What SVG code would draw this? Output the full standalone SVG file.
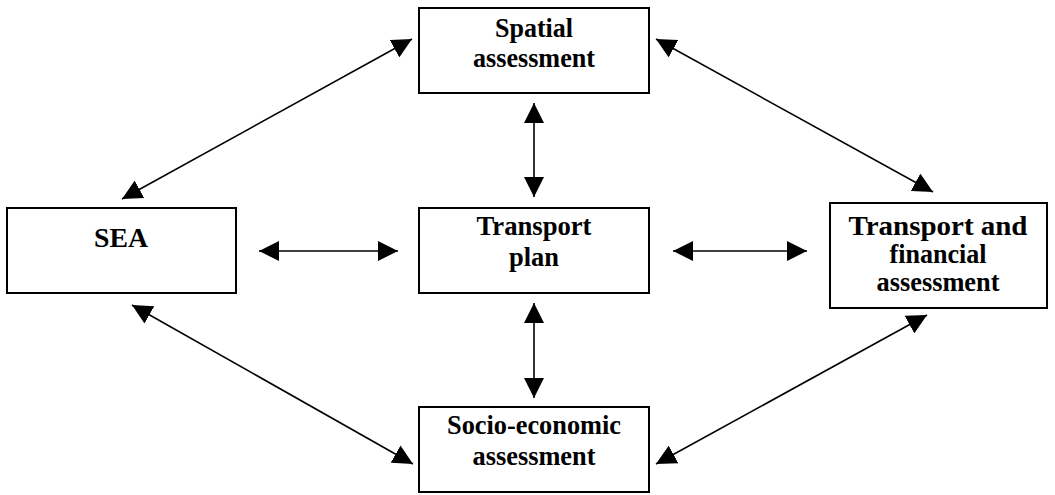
<svg xmlns="http://www.w3.org/2000/svg" width="1055" height="495" viewBox="0 0 1055 495">
  <style>
    .box { fill: #ffffff; stroke: #000000; stroke-width: 2; }
    .lbl { font-family: "Liberation Serif", "Times New Roman", serif; font-weight: bold; font-size: 28px; fill: #000000; text-anchor: middle; }
    .sm { font-size: 27px; }
    .link { stroke: #000000; stroke-width: 1.6; fill: none; marker-start: url(#head); marker-end: url(#head); }
  </style>
  <defs>
    <marker id="head" markerUnits="userSpaceOnUse" markerWidth="20" markerHeight="20" viewBox="0 0 20 20" refX="20" refY="10" orient="auto-start-reverse">
      <path d="M0,0 L20,10 L0,20 Z" fill="#000000"/>
    </marker>
  </defs>

  <g id="connectors">
    <line class="link" x1="122" y1="199" x2="412" y2="39"/>
    <line class="link" x1="656" y1="39" x2="933" y2="192"/>
    <line class="link" x1="132" y1="305" x2="413" y2="464"/>
    <line class="link" x1="656" y1="464" x2="927" y2="315"/>
    <line class="link" x1="259" y1="251" x2="398" y2="251"/>
    <line class="link" x1="673" y1="251" x2="807" y2="251"/>
    <line class="link" x1="534" y1="103" x2="534" y2="197"/>
    <line class="link" x1="534" y1="303" x2="534" y2="398"/>
  </g>

  <g id="spatial">
    <rect class="box" x="419" y="8" width="230" height="85"/>
    <text class="lbl" x="534" y="37" textLength="78" lengthAdjust="spacingAndGlyphs">Spatial</text>
    <text class="lbl" x="534" y="67" textLength="122" lengthAdjust="spacingAndGlyphs">assessment</text>
  </g>

  <g id="sea">
    <rect class="box" x="7" y="208" width="229" height="85"/>
    <text class="lbl" x="121" y="247" textLength="54" lengthAdjust="spacingAndGlyphs">SEA</text>
  </g>

  <g id="transport-plan">
    <rect class="box" x="419" y="208" width="230" height="85"/>
    <text class="lbl" x="534" y="235" textLength="115" lengthAdjust="spacingAndGlyphs">Transport</text>
    <text class="lbl" x="534" y="266" textLength="50" lengthAdjust="spacingAndGlyphs">plan</text>
  </g>

  <g id="transport-financial">
    <rect class="box" x="830" y="203" width="217" height="105"/>
    <text class="lbl sm" x="938" y="235" textLength="179" lengthAdjust="spacingAndGlyphs">Transport and</text>
    <text class="lbl sm" x="938" y="263" textLength="97" lengthAdjust="spacingAndGlyphs">financial</text>
    <text class="lbl sm" x="938" y="291" textLength="123" lengthAdjust="spacingAndGlyphs">assessment</text>
  </g>

  <g id="socio-economic">
    <rect class="box" x="419" y="407" width="230" height="85"/>
    <text class="lbl" x="534" y="434" textLength="174" lengthAdjust="spacingAndGlyphs">Socio-economic</text>
    <text class="lbl" x="534" y="465" textLength="123" lengthAdjust="spacingAndGlyphs">assessment</text>
  </g>
</svg>
